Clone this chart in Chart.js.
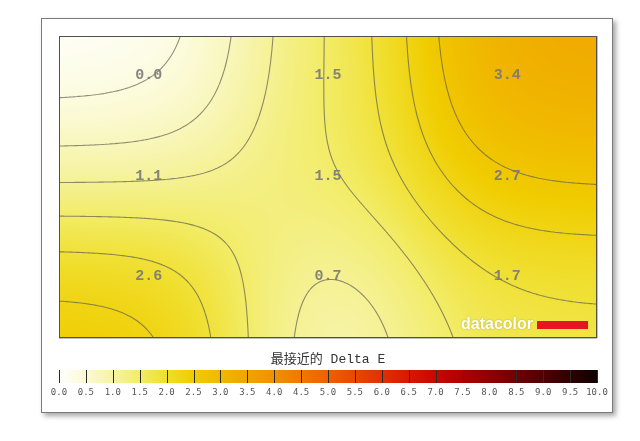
<!DOCTYPE html>
<html>
<head>
<meta charset="utf-8">
<script src="https://cdn.jsdelivr.net/npm/chart.js@4.4.0/dist/chart.umd.min.js"></script>
<style>
  html, body { margin: 0; padding: 0; background: #fff; }
  #wrap { position: relative; width: 640px; height: 441px; }
</style>
</head>
<body>
<div id="wrap"><canvas id="myChart"></canvas></div>
<script>
// 3x3 measurement zones (cell centres in axis units) and their Delta E
const columns = [0.5, 1.5, 2.5];
const rows = [0.5, 1.5, 2.5];
const deltaE = [
    [0.0, 1.5, 3.4],
    [1.1, 1.5, 2.7],
    [2.6, 0.7, 1.7]
];
// iso lines seen in the picture (range split in ninths)
const contourLevels = [0.378, 0.756, 1.133, 1.511, 1.889, 2.267, 2.644];
const colorbarTicks = [0.0, 0.5, 1.0, 1.5, 2.0, 2.5, 3.0, 3.5, 4.0, 4.5, 5.0,
    5.5, 6.0, 6.5, 7.0, 7.5, 8.0, 8.5, 9.0, 9.5, 10.0];
const colorbarTitle = '最接近的 Delta E';

// colour ramp of the Delta E legend
const rampStops = [
    [0.0, 255, 255, 255], [0.5, 251, 250, 212], [1.0, 246, 243, 164],
    [1.5, 242, 236, 104], [2.0, 240, 222, 44], [2.5, 240, 204, 0],
    [3.0, 240, 184, 0], [3.5, 240, 164, 0], [4.0, 240, 144, 0],
    [4.5, 240, 120, 0], [5.0, 238, 96, 0], [5.5, 232, 72, 0],
    [6.0, 224, 48, 0], [6.5, 214, 24, 0], [7.0, 198, 8, 0],
    [7.5, 174, 0, 0], [8.0, 144, 0, 0], [8.5, 112, 0, 0],
    [9.0, 80, 0, 0], [9.5, 48, 0, 0], [10.0, 14, 0, 0]
];

function rampColor(v) {
    if (v <= rampStops[0][0]) return rampStops[0].slice(1);
    for (let i = 1; i < rampStops.length; i++) {
        const a = rampStops[i - 1], b = rampStops[i];
        if (v <= b[0]) {
            const t = (v - a[0]) / (b[0] - a[0]);
            return [a[1] + (b[1] - a[1]) * t, a[2] + (b[2] - a[2]) * t, a[3] + (b[3] - a[3]) * t];
        }
    }
    return rampStops[rampStops.length - 1].slice(1);
}

// smooth surface through the zone values (gaussian weighted, wider across rows)
const sigmaX = 0.47, sigmaY = 0.68;
function surfaceAt(x, y) {
    let s = 0, w = 0;
    for (let r = 0; r < rows.length; r++) {
        for (let c = 0; c < columns.length; c++) {
            const dx = (x - columns[c]) / sigmaX, dy = (y - rows[r]) / sigmaY;
            const k = Math.exp(-(dx * dx + dy * dy) / 2);
            s += k * deltaE[r][c];
            w += k;
        }
    }
    return s / w;
}

const points = [];
rows.forEach((ry, r) => columns.forEach((cx, c) => points.push({ x: cx, y: ry, v: deltaE[r][c] })));

const framePlugin = {
    id: 'frame',
    beforeDraw(chart) {
        const ctx = chart.ctx;
        ctx.save();
        ctx.fillStyle = '#fff';
        ctx.fillRect(0, 0, chart.width, chart.height);
        ctx.shadowColor = 'rgba(0,0,0,0.35)';
        ctx.shadowBlur = 5;
        ctx.shadowOffsetX = 3;
        ctx.shadowOffsetY = 3;
        ctx.fillRect(41, 18, 572, 395);
        ctx.restore();
        ctx.save();
        ctx.strokeStyle = '#7a7a7a';
        ctx.lineWidth = 1;
        ctx.strokeRect(41.5, 18.5, 571, 394);
        ctx.restore();
    }
};

const surfacePlugin = {
    id: 'surface',
    beforeDatasetsDraw(chart) {
        const { ctx, chartArea: a, scales: { x, y } } = chart;
        const w = Math.round(a.right - a.left), h = Math.round(a.bottom - a.top);
        const off = document.createElement('canvas');
        off.width = w; off.height = h;
        const octx = off.getContext('2d');
        const img = octx.createImageData(w, h);
        for (let j = 0; j < h; j++) {
            const vy = y.getValueForPixel(a.top + j + 0.5);
            for (let i = 0; i < w; i++) {
                const vx = x.getValueForPixel(a.left + i + 0.5);
                const col = rampColor(surfaceAt(vx, vy));
                const p = (j * w + i) * 4;
                img.data[p] = col[0]; img.data[p + 1] = col[1]; img.data[p + 2] = col[2]; img.data[p + 3] = 255;
            }
        }
        octx.putImageData(img, 0, 0);
        ctx.drawImage(off, a.left, a.top);

        // contour lines (marching squares)
        const step = 2;
        const nx = Math.ceil(w / step) + 1, ny = Math.ceil(h / step) + 1;
        const grid = new Float32Array(nx * ny);
        const px = i => Math.min(a.left + i * step, a.right);
        const py = j => Math.min(a.top + j * step, a.bottom);
        for (let j = 0; j < ny; j++) {
            const vy = y.getValueForPixel(py(j));
            for (let i = 0; i < nx; i++) grid[j * nx + i] = surfaceAt(x.getValueForPixel(px(i)), vy);
        }
        ctx.save();
        ctx.beginPath();
        ctx.rect(a.left, a.top, w, h);
        ctx.clip();
        ctx.strokeStyle = 'rgba(95,95,80,0.7)';
        ctx.lineWidth = 1.1;
        ctx.lineJoin = 'round';
        contourLevels.forEach(level => {
            ctx.beginPath();
            for (let j = 0; j < ny - 1; j++) {
                for (let i = 0; i < nx - 1; i++) {
                    const v0 = grid[j * nx + i], v1 = grid[j * nx + i + 1];
                    const v2 = grid[(j + 1) * nx + i + 1], v3 = grid[(j + 1) * nx + i];
                    const x0 = px(i), x1 = px(i + 1), y0 = py(j), y1 = py(j + 1);
                    const pts = [];
                    if ((v0 < level) !== (v1 < level)) pts.push([x0 + (x1 - x0) * (level - v0) / (v1 - v0), y0]);
                    if ((v1 < level) !== (v2 < level)) pts.push([x1, y0 + (y1 - y0) * (level - v1) / (v2 - v1)]);
                    if ((v3 < level) !== (v2 < level)) pts.push([x0 + (x1 - x0) * (level - v3) / (v2 - v3), y1]);
                    if ((v0 < level) !== (v3 < level)) pts.push([x0, y0 + (y1 - y0) * (level - v0) / (v3 - v0)]);
                    for (let k = 0; k + 1 < pts.length; k += 2) {
                        ctx.moveTo(pts[k][0], pts[k][1]);
                        ctx.lineTo(pts[k + 1][0], pts[k + 1][1]);
                    }
                }
            }
            ctx.stroke();
        });
        ctx.restore();
    },
    afterDatasetsDraw(chart) {
        const ctx = chart.ctx;
        const meta = chart.getDatasetMeta(0);
        ctx.save();
        ctx.font = 'bold 15px "Liberation Mono", monospace';
        ctx.fillStyle = 'rgba(120,120,120,0.9)';
        ctx.textAlign = 'center';
        ctx.textBaseline = 'middle';
        meta.data.forEach((el, i) => {
            ctx.fillText(points[i].v.toFixed(1), el.x, el.y - 11);
        });
        ctx.restore();
    },
    afterDraw(chart) {
        const { ctx, chartArea: a } = chart;
        ctx.save();
        // plot border
        ctx.strokeStyle = '#505050';
        ctx.lineWidth = 1;
        ctx.strokeRect(Math.round(a.left) + 0.5, Math.round(a.top) + 0.5,
            Math.round(a.right - a.left) - 1, Math.round(a.bottom - a.top) - 1);

        // datacolor mark
        ctx.font = 'bold 16px "Liberation Sans", Arial, sans-serif';
        ctx.textAlign = 'left';
        ctx.textBaseline = 'alphabetic';
        ctx.shadowColor = 'rgba(0,0,0,0.25)';
        ctx.shadowBlur = 2;
        ctx.fillStyle = '#fff';
        ctx.fillText('datacolor', a.right - 136, a.bottom - 9);
        ctx.shadowColor = 'transparent';
        ctx.fillStyle = '#e8141e';
        ctx.fillRect(a.right - 60, a.bottom - 17, 51, 8);

        // legend colour bar
        const left = a.left, right = a.right, top = 370, bh = 13;
        const vmin = colorbarTicks[0], vmax = colorbarTicks[colorbarTicks.length - 1];
        const toX = v => left + (v - vmin) / (vmax - vmin) * (right - left);
        for (let xx = Math.round(left); xx < Math.round(right); xx++) {
            const col = rampColor(vmin + (xx + 0.5 - left) / (right - left) * (vmax - vmin));
            ctx.fillStyle = 'rgb(' + col.map(Math.round).join(',') + ')';
            ctx.fillRect(xx, top, 1, bh);
        }
        ctx.strokeStyle = '#2a2a2a';
        ctx.lineWidth = 1;
        ctx.beginPath();
        colorbarTicks.forEach(t => {
            const tx = Math.round(toX(t)) + 0.5;
            ctx.moveTo(tx, top);
            ctx.lineTo(tx, top + bh);
        });
        ctx.stroke();
        ctx.font = '9px "DejaVu Sans Mono", monospace';
        ctx.fillStyle = '#555';
        ctx.textAlign = 'center';
        ctx.textBaseline = 'middle';
        colorbarTicks.forEach(t => ctx.fillText(t.toFixed(1), toX(t), 393));

        ctx.font = '13px "Liberation Mono", "Noto Sans CJK SC", monospace';
        ctx.fillStyle = '#333';
        ctx.fillText(colorbarTitle, (left + right) / 2, 360);
        ctx.restore();
    }
};

const ctx = document.getElementById('myChart').getContext('2d');
new Chart(ctx, {
    type: 'scatter',
    data: {
        datasets: [{
            data: points,
            pointRadius: 0,
            pointHoverRadius: 0
        }]
    },
    options: {
        responsive: true,
        maintainAspectRatio: false,
        animation: false,
        layout: { padding: { left: 59, top: 36, right: 43, bottom: 103 } },
        plugins: { legend: { display: false }, tooltip: { enabled: false } },
        scales: {
            x: {
                type: 'linear', min: 0, max: 3, z: 1,
                ticks: { display: false, stepSize: 1 },
                grid: { color: 'rgba(170,170,170,0.75)', drawTicks: false },
                border: { display: false }
            },
            y: {
                type: 'linear', min: 0, max: 3, reverse: true, z: 1,
                ticks: { display: false, stepSize: 1 },
                grid: { color: 'rgba(170,170,170,0.75)', drawTicks: false },
                border: { display: false }
            }
        }
    },
    plugins: [framePlugin, surfacePlugin]
});
</script>
</body>
</html>
